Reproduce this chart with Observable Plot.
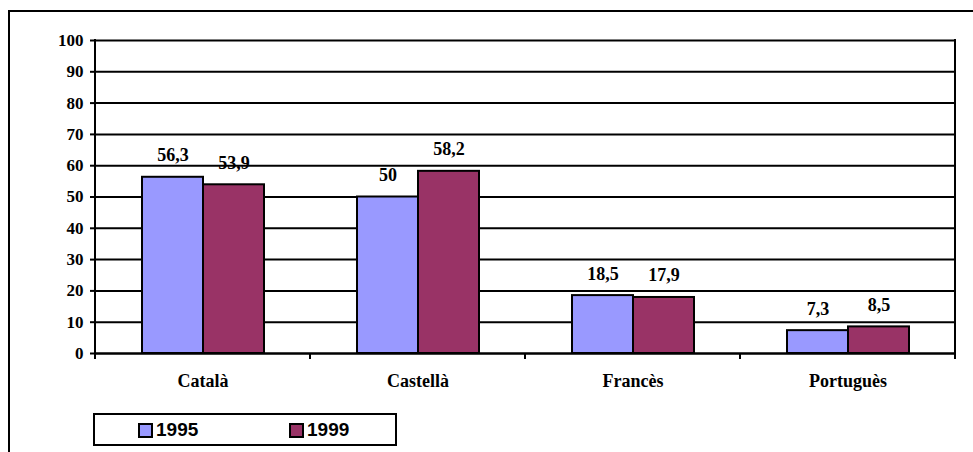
<!DOCTYPE html>
<html>
<head>
<meta charset="utf-8">
<script src="https://cdn.jsdelivr.net/npm/d3@7"></script>
<script src="https://cdn.jsdelivr.net/npm/@observablehq/plot@0.6"></script>
<style>
  html, body { margin: 0; padding: 0; background: #fff; }
  body { width: 973px; height: 452px; position: relative; overflow: hidden; }
  #frame { position: absolute; left: 8px; top: 10px; width: 980px; height: 460px;
           border-left: 2px solid #000; border-top: 2px solid #000; box-sizing: border-box; }
  #chart { position: absolute; left: 0; top: 0; }
  #legend { position: absolute; left: 93px; top: 413px; width: 304px; height: 33px;
            border: 2px solid #000; box-sizing: border-box; background: #fff;
            font-family: "Liberation Sans", Arial, sans-serif; font-weight: bold; font-size: 19px; }
  .item { position: absolute; top: 4px; display: flex; align-items: center; height: 22px; }
  .sw { width: 11px; height: 11px; border: 2px solid #000; margin-right: 3px; }
</style>
</head>
<body>
<div id="frame"></div>
<div id="chart"></div>
<div id="legend"></div>
<script>
const languages = ["Català", "Castellà", "Francès", "Portuguès"];
const years = ["1995", "1999"];
const values1995 = [56.3, 50, 18.5, 7.3];
const values1999 = [53.9, 58.2, 17.9, 8.5];
const colors = ["#9999FF", "#993366"];
const yTicks = [0, 10, 20, 30, 40, 50, 60, 70, 80, 90, 100];

const data = [];
languages.forEach((lang, i) => {
  data.push({lang, year: years[0], value: values1995[i]});
  data.push({lang, year: years[1], value: values1999[i]});
});
const fmt = v => String(v).replace(".", ",");

// Axis frame: y-axis line on the left, plot-area line on the right,
// and tick marks below the x axis at every category boundary (from the fx scale).
function axisFrame(index, scales) {
  const g = d3.create("svg:g").attr("stroke", "#000").attr("stroke-width", 2);
  const fx = scales.fx, y = scales.y;
  const y0 = y(0), yTop = y(100);
  const edges = languages.map(l => fx(l)).concat([fx(languages[languages.length - 1]) + fx.bandwidth()]);
  edges.forEach((x, i) => {
    const full = i === 0 || i === edges.length - 1;
    g.append("line").attr("x1", x).attr("x2", x)
      .attr("y1", full ? yTop - 1 : y0).attr("y2", y0 + 6);
  });
  return g.node();
}

const chart = Plot.plot({
  width: 973,
  height: 400,
  marginLeft: 93,
  marginRight: 17,
  marginTop: 40,
  marginBottom: 47,
  style: {fontFamily: "'Liberation Serif', 'Times New Roman', serif", fontWeight: "bold", fontSize: "18px", color: "#000", background: "transparent"},
  fx: {domain: languages, padding: 0, label: null},
  x: {domain: years, paddingInner: 0, paddingOuter: 0.74, axis: null},
  y: {domain: [0, 100], axis: null, label: null},
  color: {domain: years, range: colors},
  marks: [
    Plot.gridY(yTicks, {stroke: "#000", strokeOpacity: 1, strokeWidth: 2}),
    Plot.barY(data, {fx: "lang", x: "year", y: "value", fill: "year", stroke: "#000", strokeWidth: 2}),
    Plot.text(data, {fx: "lang", x: "year", y: "value", text: d => fmt(d.value), lineAnchor: "bottom", dy: -16, fontSize: 18, fill: "#000"}),
    Plot.ruleY([0], {stroke: "#000", strokeWidth: 2}),
    Plot.frame({facet: "super", render: axisFrame}),
    Plot.axisY(yTicks, {tickSize: 5, tickPadding: 7, strokeWidth: 2, fontSize: 17, tickFormat: d => String(d), label: null}),
    Plot.axisFx({anchor: "bottom", tickSize: 0, tickPadding: 21, fontSize: 18, label: null})
  ]
});
document.getElementById("chart").appendChild(chart);

const legend = document.getElementById("legend");
const lefts = [43, 194];
years.forEach((y, i) => {
  const it = document.createElement("div");
  it.className = "item";
  it.style.left = lefts[i] + "px";
  it.innerHTML = `<div class="sw" style="background:${colors[i]}"></div><span>${y}</span>`;
  legend.appendChild(it);
});
</script>
</body>
</html>
